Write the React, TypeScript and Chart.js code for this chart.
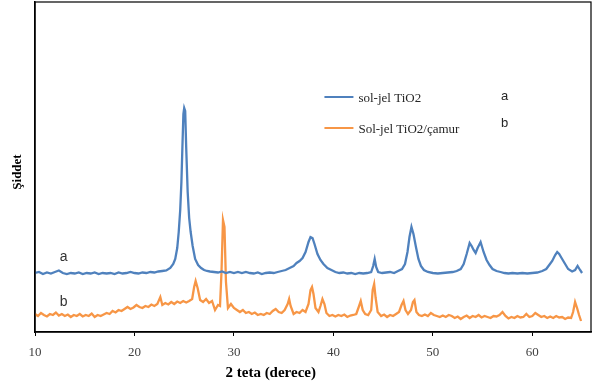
import React, { useEffect, useRef } from "react";
import { Chart, registerables } from "chart.js";

Chart.register(...registerables);

const xTicks = [10, 20, 30, 40, 50, 60];
const xTitle = "2 teta (derece)";
const yTitle = "Şiddet";
const seriesNames = ["sol-jel TiO2", "Sol-jel TiO2/çamur"];
const seriesTags = ["a", "b"];
const seriesColors = ["#4F81BD", "#F79646"];

// series a: sol-jel TiO2 (offset intensity, arbitrary units)
const blueX = [
  10.0, 10.4, 10.8, 11.2, 11.6, 12.0, 12.4, 12.8, 13.2, 13.6, 14.0, 14.4, 14.8, 15.2, 15.6, 16.0, 16.4, 16.8,
  17.2, 17.6, 18.0, 18.4, 18.8, 19.2, 19.6, 20.0, 20.4, 20.8, 21.2, 21.6, 22.0, 22.4, 22.8, 23.2, 23.6, 23.9,
  24.1, 24.3, 24.45, 24.6, 24.72, 24.82, 24.92, 25.0, 25.1, 25.2, 25.35, 25.5, 25.65, 25.85, 26.1, 26.4, 26.7, 27.0,
  27.3, 27.6, 28.0, 28.4, 28.8, 29.2, 29.6, 30.0, 30.4, 30.8, 31.2, 31.6, 32.0, 32.4, 32.8, 33.2, 33.6, 34.0,
  34.4, 34.8, 35.2, 35.6, 36.0, 36.3, 36.6, 36.9, 37.2, 37.5, 37.7, 37.9, 38.1, 38.4, 38.7, 39.0, 39.4, 39.8,
  40.2, 40.6, 41.0, 41.4, 41.8, 42.2, 42.6, 43.0, 43.4, 43.8, 44.0, 44.15, 44.3, 44.5, 44.9, 45.3, 45.7, 46.1,
  46.5, 46.9, 47.2, 47.45, 47.65, 47.85, 48.05, 48.3, 48.55, 48.8, 49.1, 49.5, 50.0, 50.5, 51.0, 51.5, 52.0,
  52.4, 52.8, 53.1, 53.4, 53.7, 53.9, 54.1, 54.3, 54.5, 54.8, 55.1, 55.4, 55.7, 56.0, 56.4, 56.8, 57.2, 57.6,
  58.0, 58.5, 59.0, 59.5, 60.0, 60.5, 61.0, 61.4, 61.7, 62.0, 62.3, 62.5, 62.7, 63.0, 63.3, 63.6, 64.0, 64.3,
  64.55, 64.8, 65.0,
];
const blueY = [
  59, 60, 58, 59.5, 58.5, 60, 61.5, 59, 58, 59, 58.5, 59.5, 58, 59, 58.5, 59.5, 58, 59,
  58.5, 59, 58, 59.5, 58.5, 59, 60, 59, 58.5, 59.5, 59, 60, 59.5, 60.5, 61, 61.5, 64, 68,
  73, 84, 100, 122, 150, 185, 218, 224, 221, 185, 140, 114, 100, 86, 73, 67, 64, 62,
  61, 60.5, 60, 59.5, 60.5, 59, 60, 59, 60, 59, 60, 59, 58.5, 59.5, 58, 59, 59.5, 59,
  60, 61, 62, 64, 66, 69, 71, 74, 80, 90, 95, 94, 88, 78, 72, 68, 64, 62,
  60, 59, 59.5, 58.5, 59, 58, 59, 58.5, 59, 60, 66, 73, 65, 60, 59, 59.5, 60, 59,
  61, 63, 68, 80, 95, 105, 98, 85, 73, 66, 62, 60, 59, 58.5, 59, 59.5, 60,
  61, 63, 68, 78, 89, 86, 82, 79, 84, 90, 80, 72, 67, 63, 61, 60, 59, 58.5,
  59, 58.5, 59, 58.5, 59, 59.5, 61, 63, 67, 71, 77, 80, 78, 73, 68, 63, 60.5, 62,
  66, 62, 59,
];

// series b: Sol-jel TiO2/çamur
const orangeX = [
  10.0, 10.3, 10.6, 10.9, 11.2, 11.5, 11.8, 12.1, 12.4, 12.7, 13.0, 13.3, 13.6, 13.9, 14.2, 14.5, 14.8, 15.1,
  15.4, 15.7, 16.0, 16.3, 16.6, 16.9, 17.2, 17.5, 17.8, 18.1, 18.4, 18.7, 19.0, 19.3, 19.6, 19.9, 20.2, 20.5,
  20.8, 21.1, 21.4, 21.7, 22.0, 22.3, 22.6, 22.8, 23.1, 23.4, 23.7, 24.0, 24.3, 24.6, 24.9, 25.2, 25.5, 25.8,
  26.0, 26.15, 26.35, 26.6, 26.9, 27.2, 27.5, 27.8, 28.1, 28.4, 28.6, 28.75, 28.9, 29.05, 29.2, 29.4, 29.7,
  30.0, 30.3, 30.6, 30.9, 31.2, 31.5, 31.8, 32.1, 32.4, 32.7, 33.0, 33.3, 33.6, 33.9, 34.2, 34.5, 34.8, 35.1,
  35.4, 35.55, 35.7, 36.0, 36.3, 36.6, 36.9, 37.2, 37.5, 37.7, 37.85, 38.0, 38.2, 38.5, 38.7, 38.9, 39.1,
  39.3, 39.6, 39.9, 40.2, 40.5, 40.8, 41.1, 41.4, 41.7, 42.0, 42.3, 42.55, 42.75, 42.95, 43.2, 43.5, 43.8,
  43.95, 44.1, 44.25, 44.45, 44.8, 45.1, 45.4, 45.7, 46.0, 46.3, 46.6, 46.85, 47.05, 47.25, 47.5, 47.8, 48.0,
  48.15, 48.35, 48.6, 48.9, 49.2, 49.5, 49.8, 50.1, 50.4, 50.7, 51.0, 51.3, 51.6, 51.9, 52.2, 52.5, 52.8,
  53.1, 53.4, 53.7, 54.0, 54.3, 54.6, 54.9, 55.2, 55.5, 55.8, 56.1, 56.4, 56.7, 57.0, 57.3, 57.6, 57.9, 58.2,
  58.5, 58.8, 59.1, 59.4, 59.7, 60.0, 60.3, 60.6, 60.9, 61.2, 61.5, 61.8, 62.1, 62.4, 62.7, 63.0, 63.3, 63.6,
  63.9, 64.1, 64.3, 64.5, 64.7, 64.9,
];
const orangeY = [
  18, 16, 19, 17, 15.5, 18, 17, 19.5, 16.5, 18, 16, 17.5, 15, 17, 16, 18, 15.5, 17,
  16, 18.5, 15, 17, 16, 17.5, 19, 18, 21, 19.5, 22, 21, 23, 25, 23, 24.5, 27, 25,
  24, 26, 25, 27.5, 26, 28, 35, 27, 29, 27.5, 30, 28, 30.5, 29, 31, 29.5, 31, 33,
  45, 51, 44, 32, 30, 33, 29, 31, 22, 27, 26, 60, 112, 105, 50, 24, 28,
  24, 22, 20, 22, 19, 20, 18, 19.5, 17, 18, 17, 19, 18, 21, 23, 20, 19, 22,
  28, 33, 26, 18, 20, 19, 22, 20, 28, 42, 45, 38, 24, 20, 26, 33, 28,
  19, 16, 17, 15.5, 17, 16, 17.5, 15, 16.5, 17, 18, 25, 31, 22, 18, 17, 22,
  42, 48, 34, 20, 16, 17.5, 15, 17, 16, 18, 20, 27, 31, 22, 18, 22, 30,
  32, 20, 17, 16, 17.5, 16, 19, 17, 16, 15, 16.5, 15, 17, 16, 14, 15.5, 13,
  15, 16.5, 14, 16, 15, 17, 14.5, 16, 15, 14, 16, 15.5, 17, 20, 16, 13.5, 15, 14,
  16, 14.5, 15, 18, 15, 16, 19, 17, 15, 16, 14, 15.5, 14, 16, 14.5, 15, 13, 14.5,
  14, 20, 30, 24, 17, 11,
];

const decorPlugin = {
  id: "decor",
  afterDraw(chart: any) {
    const { ctx, chartArea } = chart;
    const xs = chart.scales.x;
    const ys = chart.scales.y;
    ctx.save();
    // frame
    ctx.strokeStyle = "#000";
    ctx.lineWidth = 1.2;
    ctx.strokeRect(chartArea.left, chartArea.top, chartArea.right - chartArea.left, chartArea.bottom - chartArea.top);
    // axis titles
    ctx.fillStyle = "#000";
    ctx.font = "bold 15px 'Liberation Serif'";
    ctx.textAlign = "center";
    ctx.textBaseline = "middle";
    ctx.fillText(xTitle, xs.getPixelForValue(33.7), 373);
    ctx.save();
    ctx.translate(18, (chartArea.top + chartArea.bottom) / 2 + 5);
    ctx.rotate(-Math.PI / 2);
    ctx.font = "bold 13px 'Liberation Serif'";
    ctx.fillText(yTitle, 0, 0);
    ctx.restore();
    // legend
    const lx = xs.getPixelForValue(39.1);
    const rows = [ys.getPixelForValue(235), ys.getPixelForValue(204)];
    ctx.textAlign = "left";
    ctx.font = "13px 'Liberation Serif'";
    for (let i = 0; i < 2; i++) {
      ctx.strokeStyle = seriesColors[i];
      ctx.lineWidth = 2;
      ctx.beginPath();
      ctx.moveTo(lx, rows[i]);
      ctx.lineTo(lx + 29, rows[i]);
      ctx.stroke();
      ctx.fillStyle = "#262626";
      ctx.fillText(seriesNames[i], lx + 34, rows[i] + 1.5);
    }
    ctx.font = "13px 'Liberation Sans'";
    ctx.fillStyle = "#262626";
    ctx.fillText(seriesTags[0], xs.getPixelForValue(56.85), ys.getPixelForValue(236));
    ctx.fillText(seriesTags[1], xs.getPixelForValue(56.85), ys.getPixelForValue(209));
    // curve tags
    ctx.fillStyle = "#333";
    ctx.font = "14px 'Liberation Sans'";
    ctx.fillText(seriesTags[0], xs.getPixelForValue(12.5), ys.getPixelForValue(75));
    ctx.fillText(seriesTags[1], xs.getPixelForValue(12.5), ys.getPixelForValue(30));
    ctx.restore();
  },
};

export default function App() {
  const ref = useRef<HTMLCanvasElement>(null);
  useEffect(() => {
    document.body.style.margin = "0";
    const blue = blueX.map((x, i) => ({ x, y: blueY[i] }));
    const orange = orangeX.map((x, i) => ({ x, y: orangeY[i] }));
    const chart = new Chart(ref.current!, {
      type: "line",
      data: {
        datasets: [
          { label: seriesNames[0], data: blue, borderColor: seriesColors[0], borderWidth: 2.3, pointRadius: 0, tension: 0 },
          { label: seriesNames[1], data: orange, borderColor: seriesColors[1], borderWidth: 2.3, pointRadius: 0, tension: 0 },
        ],
      },
      options: {
        responsive: false,
        animation: false,
        layout: { padding: { top: 2, right: 2, left: 0, bottom: 0 } },
        plugins: { legend: { display: false }, tooltip: { enabled: false } },
        scales: {
          x: {
            type: "linear",
            min: 10,
            max: 65.9,
            afterFit: (s: any) => { s.height = 56; },
            afterBuildTicks: (s: any) => { s.ticks = xTicks.map((v) => ({ value: v })); },
            ticks: { includeBounds: false, stepSize: 10, color: "#404040", font: { family: "'Liberation Serif'", size: 13 }, padding: 9, maxRotation: 0 },
            grid: { display: true, drawOnChartArea: false, drawTicks: true, tickLength: 4, color: "#000", lineWidth: 1 },
            border: { display: true, color: "#000", width: 1.5 },
          },
          y: {
            min: 0,
            max: 330,
            afterFit: (s: any) => { s.width = 35; },
            ticks: { display: false },
            grid: { display: false },
            border: { display: true, color: "#000", width: 1.5 },
          },
        },
      },
      plugins: [decorPlugin],
    });
    return () => chart.destroy();
  }, []);
  return <canvas ref={ref} width={593} height={388} style={{ display: "block" }} />;
}
